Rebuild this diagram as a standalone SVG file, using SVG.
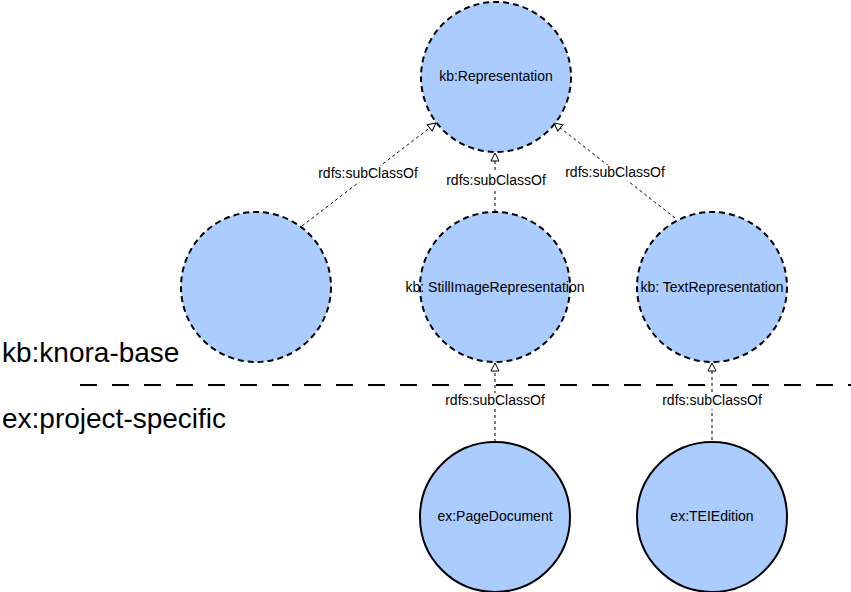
<svg xmlns="http://www.w3.org/2000/svg" width="851" height="592" viewBox="0 0 851 592">
<style>
.node{fill:#aaccff;stroke:#000;stroke-width:2}
.dashed{stroke-dasharray:6 4}
.lbl{font-family:"Liberation Sans",Arial,sans-serif;font-size:14px;fill:#000;text-anchor:middle}
.big{font-family:"Liberation Sans",Arial,sans-serif;font-size:28px;fill:#000}
.edge{stroke:#000;stroke-width:1;stroke-dasharray:3 3;fill:none;marker-end:url(#tri)}
.lblbg{fill:#fff}
</style>
<defs>
<marker id="tri" viewBox="0 0 10 10" refX="9" refY="5" markerWidth="10" markerHeight="10" markerUnits="userSpaceOnUse" orient="auto">
<path d="M1,1 L9,5 L1,9 Z" fill="#fff" stroke="#000" stroke-width="1"/>
</marker>
</defs>
<rect width="851" height="592" fill="#fff"/>
<line x1="80" y1="385" x2="851" y2="385" stroke="#000" stroke-width="2" stroke-dasharray="17 15"/>
<text class="big" x="2" y="362">kb:knora-base</text>
<text class="big" x="2" y="428">ex:project-specific</text>
<g id="connectors">
<line class="edge" x1="302" y1="226" x2="436" y2="123"/>
<line class="edge" x1="495" y1="212" x2="495" y2="153"/>
<line class="edge" x1="675" y1="218" x2="554" y2="123"/>
<line class="edge" x1="495" y1="442" x2="495" y2="363"/>
<line class="edge" x1="712" y1="440" x2="712" y2="363"/>
<rect class="lblbg" x="318" y="166" width="100" height="16"/>
<text class="lbl" x="368" y="178">rdfs:subClassOf</text>
<rect class="lblbg" x="446" y="173" width="100" height="16"/>
<text class="lbl" x="496" y="185">rdfs:subClassOf</text>
<rect class="lblbg" x="565" y="165" width="100" height="16"/>
<text class="lbl" x="615" y="177">rdfs:subClassOf</text>
<rect class="lblbg" x="445" y="393" width="100" height="16"/>
<text class="lbl" x="495" y="405">rdfs:subClassOf</text>
<rect class="lblbg" x="662" y="393" width="100" height="16"/>
<text class="lbl" x="712" y="405">rdfs:subClassOf</text>
</g>
<g id="kb-Representation">
<circle class="node dashed" cx="496" cy="77" r="75"/>
<text class="lbl" x="496" y="81">kb:Representation</text>
</g>
<g id="blank-node">
<circle class="node dashed" cx="256" cy="287" r="75"/>
</g>
<g id="kb-StillImageRepresentation">
<circle class="node dashed" cx="495" cy="287" r="75"/>
<text class="lbl" x="495" y="292">kb: StillImageRepresentation</text>
</g>
<g id="kb-TextRepresentation">
<circle class="node dashed" cx="712" cy="287" r="75"/>
<text class="lbl" x="712" y="292">kb: TextRepresentation</text>
</g>
<g id="ex-PageDocument">
<circle class="node" cx="495" cy="517" r="75"/>
<text class="lbl" x="495" y="521">ex:PageDocument</text>
</g>
<g id="ex-TEIEdition">
<circle class="node" cx="712" cy="517" r="75"/>
<text class="lbl" x="712" y="521">ex:TEIEdition</text>
</g>
</svg>
